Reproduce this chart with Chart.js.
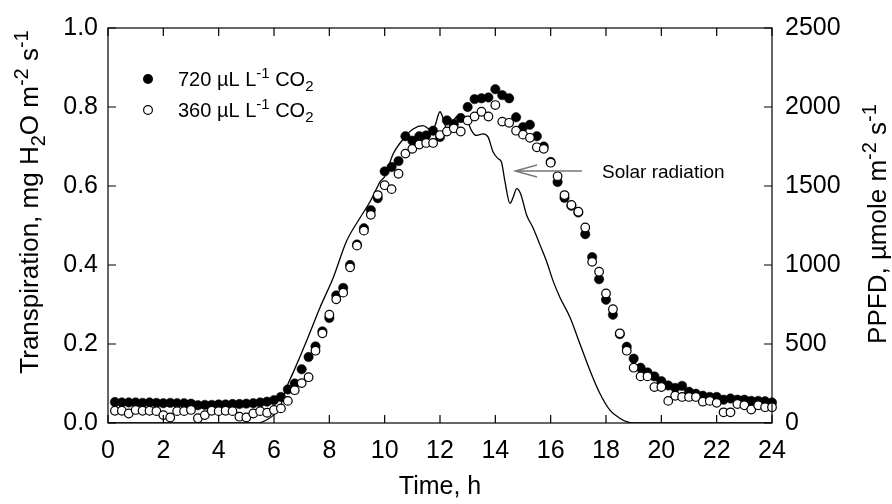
<!DOCTYPE html>
<html>
<head>
<meta charset="utf-8">
<script src="https://cdn.jsdelivr.net/npm/chart.js@4.4.1/dist/chart.umd.min.js"></script>
<style>
  html, body { margin: 0; padding: 0; background: #fff; }
  #wrap { width: 892px; height: 504px; }
</style>
</head>
<body>
<div id="wrap"><canvas id="transChart" width="892" height="504"></canvas></div>
<script>
// sampling times, h (15 min logging)
const times = [
  0.25, 0.5, 0.75, 1, 1.25, 1.5, 1.75, 2, 2.25, 2.5, 2.75, 3,
  3.25, 3.5, 3.75, 4, 4.25, 4.5, 4.75, 5, 5.25, 5.5, 5.75, 6,
  6.25, 6.5, 6.75, 7, 7.25, 7.5, 7.75, 8, 8.25, 8.5, 8.75, 9,
  9.25, 9.5, 9.75, 10, 10.25, 10.5, 10.75, 11, 11.25, 11.5, 11.75, 12,
  12.25, 12.5, 12.75, 13, 13.25, 13.5, 13.75, 14, 14.25, 14.5, 14.75, 15,
  15.25, 15.5, 15.75, 16, 16.25, 16.5, 16.75, 17, 17.25, 17.5, 17.75, 18,
  18.25, 18.5, 18.75, 19, 19.25, 19.5, 19.75, 20, 20.25, 20.5, 20.75, 21,
  21.25, 21.5, 21.75, 22, 22.25, 22.5, 22.75, 23, 23.25, 23.5, 23.75, 24
];

// transpiration, mg H2O m-2 s-1
const trans720 = [
  0.053, 0.052, 0.052, 0.052, 0.051, 0.052, 0.051, 0.050, 0.051, 0.050, 0.050, 0.049,
  0.045, 0.046, 0.046, 0.047, 0.047, 0.048, 0.048, 0.049, 0.050, 0.052, 0.054, 0.058,
  0.066, 0.085, 0.100, 0.136, 0.167, 0.194, 0.232, 0.266, 0.323, 0.342, 0.400, 0.452,
  0.493, 0.539, 0.569, 0.637, 0.648, 0.663, 0.726, 0.715, 0.726, 0.728, 0.740, 0.724,
  0.766, 0.757, 0.772, 0.800, 0.820, 0.822, 0.824, 0.845, 0.830, 0.822, 0.774, 0.749,
  0.755, 0.726, 0.700, 0.661, 0.610, 0.570, 0.550, 0.533, 0.478, 0.420, 0.364, 0.312,
  0.274, 0.225, 0.193, 0.163, 0.140, 0.128, 0.118, 0.106, 0.095, 0.089, 0.094, 0.079,
  0.074, 0.069, 0.066, 0.066, 0.059, 0.062, 0.059, 0.059, 0.056, 0.056, 0.055, 0.052
];
const trans360 = [
  0.031, 0.031, 0.024, 0.033, 0.031, 0.031, 0.030, 0.020, 0.014, 0.030, 0.030, 0.033,
  0.012, 0.020, 0.031, 0.030, 0.031, 0.030, 0.016, 0.014, 0.024, 0.030, 0.026, 0.033,
  0.037, 0.056, 0.083, 0.101, 0.116, 0.183, 0.227, 0.274, 0.313, 0.330, 0.394, 0.449,
  0.487, 0.527, 0.577, 0.602, 0.592, 0.631, 0.682, 0.694, 0.705, 0.709, 0.709, 0.729,
  0.738, 0.746, 0.738, 0.766, 0.776, 0.788, 0.776, 0.805, 0.763, 0.760, 0.740, 0.730,
  0.722, 0.698, 0.694, 0.659, 0.625, 0.577, 0.552, 0.535, 0.495, 0.408, 0.383, 0.328,
  0.288, 0.227, 0.183, 0.140, 0.118, 0.118, 0.091, 0.091, 0.056, 0.069, 0.066, 0.066,
  0.066, 0.054, 0.056, 0.051, 0.027, 0.027, 0.048, 0.045, 0.034, 0.045, 0.040, 0.040
];

// solar radiation trace (PPFD, umol m-2 s-1)
const solarTimes = [
  0, 5.4, 5.73, 5.98, 6.22, 6.46, 6.7, 7.18, 7.66, 8.14, 8.62, 9.1, 9.47, 9.71, 9.83,
  10.0, 10.31, 10.73, 11.03, 11.39, 11.7, 11.82, 12.0, 12.12, 12.24, 12.42, 12.58,
  12.78, 12.96, 13.14, 13.32, 13.56, 13.74, 13.92, 14.1, 14.22, 14.35, 14.53, 14.65,
  14.77, 14.91, 15.13, 15.37, 15.61, 15.85, 16.09, 16.34, 16.7, 17.06, 17.42, 17.78,
  18.14, 18.5, 18.74, 19.0, 24
];
const solarPPFD = [
  0, 0, 19, 50, 102, 228, 322, 521, 730, 919, 1150, 1296, 1400, 1484, 1526,
  1560, 1704, 1809, 1861, 1882, 1851, 1882, 1970, 1924, 1861, 1893, 1935,
  1945, 1924, 1851, 1820, 1830, 1809, 1715, 1673, 1652, 1526, 1390, 1432,
  1484, 1453, 1317, 1233, 1129, 1024, 898, 793, 668, 500, 333, 187,
  82, 30, 8, 0, 0
];

const xTicks = [0, 2, 4, 6, 8, 10, 12, 14, 16, 18, 20, 22, 24];
const yTicks = [0, 0.2, 0.4, 0.6, 0.8, 1.0];
const y2Ticks = [0, 500, 1000, 1500, 2000, 2500];

const FONT = 'Liberation Sans, Arial, Helvetica, sans-serif';
Chart.defaults.font.family = FONT;
Chart.defaults.color = '#000';

const toXY = (xs, ys) => xs.map((x, i) => ({ x: x, y: ys[i] }));

// text with sub/superscripts: parts = [[text, shift]] shift -1 sub, 1 sup
function richWidth(ctx, parts, size) {
  let w = 0;
  parts.forEach(([t, s]) => {
    ctx.font = (s ? Math.round(size * 0.75) : size) + 'px ' + FONT;
    w += ctx.measureText(t).width;
  });
  return w;
}
function drawRich(ctx, parts, x, y, size) {
  let cx = x;
  parts.forEach(([t, s]) => {
    ctx.font = (s ? Math.round(size * 0.75) : size) + 'px ' + FONT;
    const dy = s === 1 ? -size * 0.4 : (s === -1 ? size * 0.25 : 0);
    ctx.fillText(t, cx, y + dy);
    cx += ctx.measureText(t).width;
  });
}

const leftTitle = [['Transpiration, mg H', 0], ['2', -1], ['O m', 0], ['-2', 1], [' s', 0], ['-1', 1]];
const rightTitle = [['PPFD, \u00b5mole m', 0], ['-2', 1], [' s', 0], ['-1', 1]];
const leg720 = [['720 \u00b5L L', 0], ['-1', 1], [' CO', 0], ['2', -1]];
const leg360 = [['360 \u00b5L L', 0], ['-1', 1], [' CO', 0], ['2', -1]];

const decorations = {
  id: 'decorations',
  afterDraw(chart) {
    const { ctx, chartArea: a, scales } = chart;
    ctx.save();
    ctx.strokeStyle = '#000';
    ctx.lineWidth = 1.2;
    ctx.strokeRect(a.left, a.top, a.right - a.left, a.bottom - a.top);

    // inward tick marks on all four sides
    const tl = 8;
    ctx.beginPath();
    xTicks.forEach(v => {
      const px = scales.x.getPixelForValue(v);
      ctx.moveTo(px, a.bottom); ctx.lineTo(px, a.bottom - tl);
      ctx.moveTo(px, a.top); ctx.lineTo(px, a.top + tl);
    });
    yTicks.forEach(v => {
      const py = scales.y.getPixelForValue(v);
      ctx.moveTo(a.left, py); ctx.lineTo(a.left + tl, py);
    });
    y2Ticks.forEach(v => {
      const py = scales.y2.getPixelForValue(v);
      ctx.moveTo(a.right, py); ctx.lineTo(a.right - tl, py);
    });
    ctx.stroke();

    ctx.fillStyle = '#000';
    ctx.textBaseline = 'alphabetic';
    ctx.textAlign = 'left';

    // axis titles
    const ts = 26;
    let w = richWidth(ctx, leftTitle, ts);
    ctx.save();
    ctx.translate(38, 202);
    ctx.rotate(-Math.PI / 2);
    drawRich(ctx, leftTitle, -w / 2, 0, ts);
    ctx.restore();

    w = richWidth(ctx, rightTitle, ts);
    ctx.save();
    ctx.translate(886, 224);
    ctx.rotate(-Math.PI / 2);
    drawRich(ctx, rightTitle, -w / 2, 0, ts);
    ctx.restore();

    ctx.font = '25px ' + FONT;
    ctx.textAlign = 'center';
    ctx.fillText('Time, h', (a.left + a.right) / 2, 494);
    ctx.textAlign = 'left';

    // legend
    ctx.beginPath();
    ctx.arc(148, 79, 5, 0, Math.PI * 2);
    ctx.fill();
    ctx.beginPath();
    ctx.arc(148, 110, 4.4, 0, Math.PI * 2);
    ctx.fillStyle = '#fff';
    ctx.fill();
    ctx.lineWidth = 1.2;
    ctx.stroke();
    ctx.fillStyle = '#000';
    drawRich(ctx, leg720, 178, 86, 20);
    drawRich(ctx, leg360, 178, 117, 20);

    // solar radiation label and arrow
    ctx.font = '19px ' + FONT;
    ctx.fillText('Solar radiation', 602, 178);
    ctx.strokeStyle = '#777';
    ctx.lineWidth = 1.3;
    ctx.beginPath();
    ctx.moveTo(582, 171); ctx.lineTo(515, 171);
    ctx.moveTo(537, 165); ctx.lineTo(515, 171); ctx.lineTo(537, 177);
    ctx.stroke();
    ctx.restore();
  }
};

const ctx = document.getElementById('transChart').getContext('2d');

new Chart(ctx, {
  type: 'scatter',
  data: {
    datasets: [
      {
        label: '360 uL L-1 CO2',
        data: toXY(times, trans360),
        yAxisID: 'y',
        pointRadius: 4.3,
        pointBackgroundColor: '#fff',
        pointBorderColor: '#000',
        pointBorderWidth: 1.2,
        clip: false,
        order: 1
      },
      {
        label: '720 uL L-1 CO2',
        data: toXY(times, trans720),
        yAxisID: 'y',
        pointRadius: 4.7,
        pointBackgroundColor: '#000',
        pointBorderColor: '#000',
        pointBorderWidth: 0.5,
        clip: false,
        order: 2
      },
      {
        label: 'Solar radiation',
        data: toXY(solarTimes, solarPPFD),
        yAxisID: 'y2',
        showLine: true,
        pointRadius: 0,
        borderColor: '#000',
        borderWidth: 1.3,
        cubicInterpolationMode: 'monotone',
        order: 3
      }
    ]
  },
  options: {
    responsive: false,
    animation: false,
    devicePixelRatio: 1,
    layout: { padding: { top: 25, left: 0, right: 0, bottom: 0 } },
    plugins: {
      legend: { display: false },
      tooltip: { enabled: false }
    },
    scales: {
      x: {
        type: 'linear',
        min: 0,
        max: 24,
        afterBuildTicks: s => { s.ticks = xTicks.map(v => ({ value: v })); },
        afterFit: s => { s.height = 81; },
        ticks: { font: { size: 25 }, padding: 13, maxRotation: 0 },
        grid: { display: false, drawTicks: false },
        border: { display: false }
      },
      y: {
        position: 'left',
        min: 0,
        max: 1,
        afterBuildTicks: s => { s.ticks = yTicks.map(v => ({ value: v })); },
        afterFit: s => { s.width = 108; },
        ticks: { font: { size: 25 }, padding: 10, callback: v => v.toFixed(1) },
        grid: { display: false, drawTicks: false },
        border: { display: false }
      },
      y2: {
        position: 'right',
        min: 0,
        max: 2500,
        afterBuildTicks: s => { s.ticks = y2Ticks.map(v => ({ value: v })); },
        afterFit: s => { s.width = 120; },
        ticks: { font: { size: 25 }, padding: 13, callback: v => String(v) },
        grid: { display: false, drawTicks: false },
        border: { display: false }
      }
    }
  },
  plugins: [decorations]
});
</script>
</body>
</html>
